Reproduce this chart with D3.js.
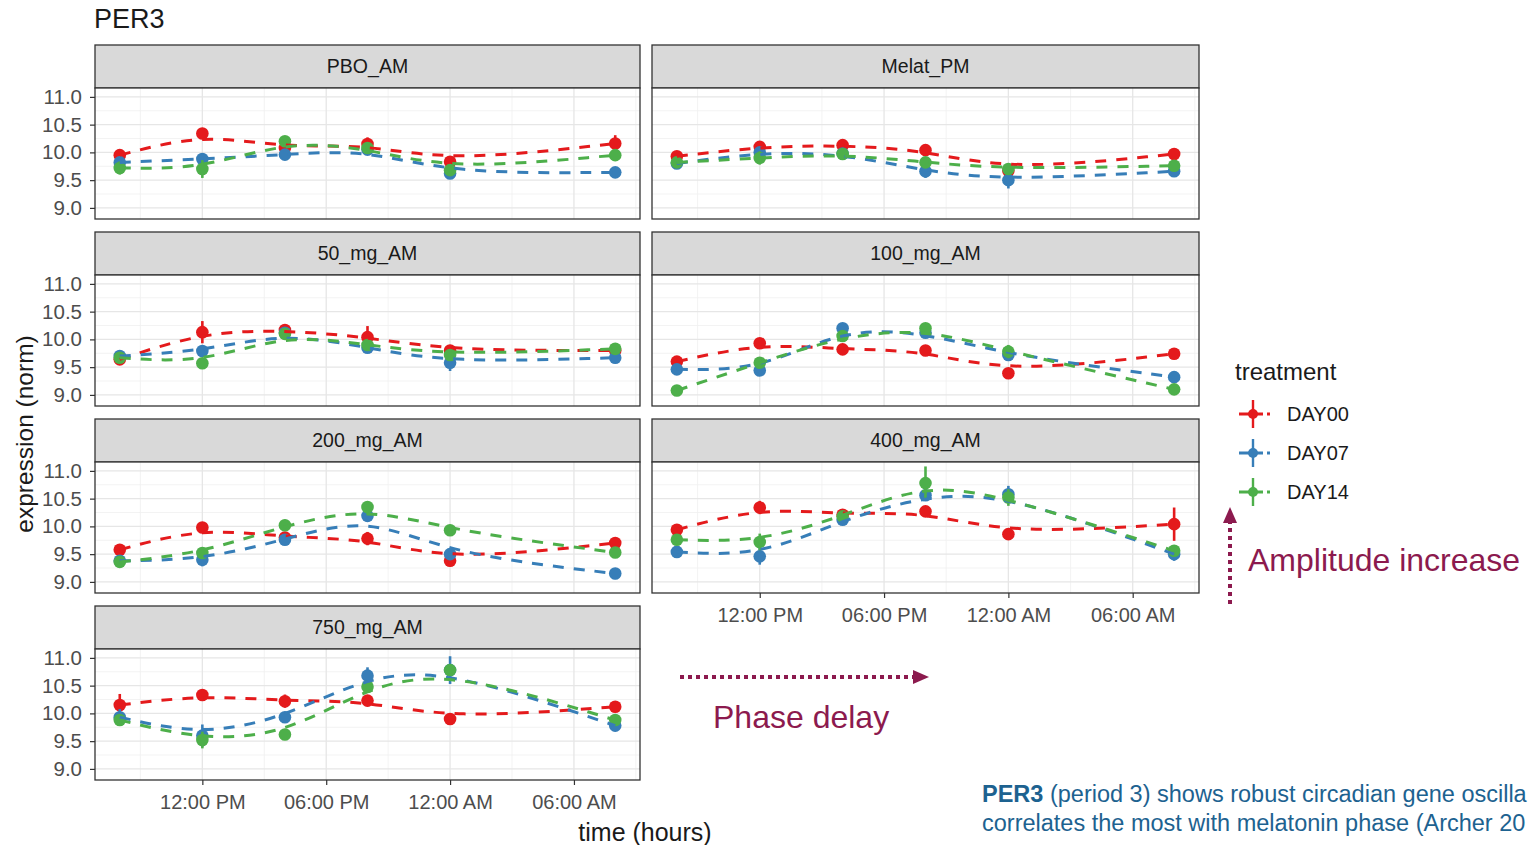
<!DOCTYPE html>
<html><head><meta charset="utf-8">
<script src="https://cdn.jsdelivr.net/npm/d3@7"></script>
<style>
body{margin:0;background:#fff;overflow:hidden;}
text{font-family:"Liberation Sans",Arial,sans-serif;}
</style>
</head><body>
<svg id="c" width="1528" height="845"></svg>
<script>
// ---------- data ----------
const panels = ["PBO_AM","Melat_PM","50_mg_AM","100_mg_AM","200_mg_AM","400_mg_AM","750_mg_AM"];
const treatments = ["DAY00","DAY07","DAY14"];
const colors = ["#E41A1C","#377EB8","#4DAF4A"];
const hours = [8,12,16,20,24,32];
const xTickHours = [12,18,24,30];
const xTickLabels = ["12:00 PM","06:00 PM","12:00 AM","06:00 AM"];
const xMinorHours = [9,15,21,27,33];
const yTicks = [9.0,9.5,10.0,10.5,11.0];
const yMinor = [9.25,9.75,10.25,10.75];

const day00 = [
  [9.95,10.34,10.08,10.15,9.83,10.16],
  [9.93,10.10,10.13,10.04,9.67,9.97],
  [9.64,10.13,10.17,10.04,9.80,9.80],
  [9.60,9.93,9.82,9.80,9.39,9.74],
  [9.58,9.98,9.80,9.78,9.38,9.70],
  [9.94,10.34,10.21,10.27,9.86,10.04],
  [10.15,10.33,10.22,10.23,9.90,10.12]
];
const day07 = [
  [9.82,9.88,9.96,10.05,9.62,9.64],
  [9.80,10.00,9.98,9.66,9.50,9.66],
  [9.70,9.79,10.12,9.85,9.58,9.67],
  [9.46,9.44,10.20,10.12,9.72,9.32],
  [9.38,9.40,9.76,10.19,9.50,9.15],
  [9.54,9.46,10.12,10.56,10.58,9.50],
  [9.93,9.60,9.93,10.68,10.78,9.78]
];
const day14 = [
  [9.72,9.70,10.20,10.08,9.68,9.95],
  [9.82,9.90,9.97,9.82,9.70,9.76],
  [9.67,9.57,10.10,9.90,9.72,9.83],
  [9.08,9.58,10.06,10.20,9.78,9.10],
  [9.36,9.52,10.02,10.35,9.93,9.53],
  [9.76,9.72,10.18,10.78,10.52,9.56],
  [9.88,9.52,9.62,10.48,10.78,9.88]
];
const err00 = [
  [0.10,0.10,0.08,0.12,0.08,0.15],
  [0.08,0.10,0.10,0.10,0.10,0.10],
  [0.10,0.20,0.08,0.20,0.10,0.10],
  [0.06,0.06,0.06,0.08,0.08,0.06],
  [0.10,0.08,0.08,0.12,0.10,0.06],
  [0.10,0.12,0.08,0.08,0.08,0.30],
  [0.20,0.10,0.12,0.10,0.08,0.10]
];
const err07 = [
  [0.08,0.10,0.08,0.08,0.08,0.08],
  [0.06,0.08,0.08,0.12,0.15,0.10],
  [0.08,0.10,0.06,0.06,0.15,0.10],
  [0.06,0.08,0.06,0.08,0.08,0.06],
  [0.08,0.12,0.08,0.10,0.08,0.10],
  [0.10,0.15,0.08,0.08,0.15,0.12],
  [0.15,0.20,0.08,0.15,0.25,0.10]
];
const err14 = [
  [0.12,0.16,0.08,0.08,0.06,0.08],
  [0.06,0.12,0.08,0.08,0.06,0.06],
  [0.06,0.08,0.06,0.06,0.06,0.10],
  [0.06,0.08,0.08,0.08,0.12,0.06],
  [0.06,0.08,0.10,0.10,0.10,0.06],
  [0.10,0.15,0.08,0.30,0.15,0.08],
  [0.08,0.15,0.10,0.10,0.08,0.08]
];
const seriesVals = [day00, day07, day14];
const seriesErr = [err00, err07, err14];

// ---------- layout ----------
const svg = d3.select("#c");
const colX = [[95,640],[652,1199]];
const rowTop0 = 45, rowStep = 187, stripH = 43, plotH = 131;
const xDomain = [6.8, 33.2];
const yDomain = [8.8, 11.16];
const dark = "#333333";
const FF = '"Liberation Sans",Arial,sans-serif';

svg.append("text").attr("x",94).attr("y",28).attr("font-size",27).attr("fill","#1a1a1a").text("PER3");

panels.forEach((name, pi) => {
  const col = pi % 2, row = Math.floor(pi / 2);
  const [x0, x1] = colX[col];
  const top = rowTop0 + row * rowStep;
  const pTop = top + stripH, pBot = pTop + plotH;
  const x = d3.scaleLinear().domain(xDomain).range([x0, x1]);
  const y = d3.scaleLinear().domain(yDomain).range([pBot, pTop]);
  const g = svg.append("g");

  // strip
  g.append("rect").attr("x",x0).attr("y",top).attr("width",x1-x0).attr("height",stripH)
    .attr("fill","#D9D9D9").attr("stroke",dark).attr("stroke-width",1.3);
  g.append("text").attr("x",(x0+x1)/2).attr("y",top+stripH/2).attr("dy","0.35em")
    .attr("text-anchor","middle").attr("font-size",19.5).attr("fill","#1a1a1a").text(name);

  // panel background + grid
  g.append("rect").attr("x",x0).attr("y",pTop).attr("width",x1-x0).attr("height",plotH).attr("fill","#fff");
  g.selectAll(".ymin").data(yMinor).enter().append("line")
    .attr("x1",x0).attr("x2",x1).attr("y1",d=>y(d)).attr("y2",d=>y(d))
    .attr("stroke","#F0F0F0").attr("stroke-width",0.8);
  g.selectAll(".xmin").data(xMinorHours.filter(h=>h<xDomain[1])).enter().append("line")
    .attr("y1",pTop).attr("y2",pBot).attr("x1",d=>x(d)).attr("x2",d=>x(d))
    .attr("stroke","#F0F0F0").attr("stroke-width",0.8);
  g.selectAll(".ymaj").data(yTicks).enter().append("line")
    .attr("x1",x0).attr("x2",x1).attr("y1",d=>y(d)).attr("y2",d=>y(d))
    .attr("stroke","#E6E6E6").attr("stroke-width",1.3);
  g.selectAll(".xmaj").data(xTickHours).enter().append("line")
    .attr("y1",pTop).attr("y2",pBot).attr("x1",d=>x(d)).attr("x2",d=>x(d))
    .attr("stroke","#E6E6E6").attr("stroke-width",1.3);

  // data: error bars + points, then lines
  const line = d3.line().x(d=>x(d[0])).y(d=>y(d[1])).curve(d3.curveBasis);
  treatments.forEach((t, si) => {
    const vals = seriesVals[si][pi], errs = seriesErr[si][pi];
    const pts = hours.map((h,k)=>[h, vals[k], errs[k]]);
    g.selectAll(".eb"+si).data(pts).enter().append("line")
      .attr("x1",d=>x(d[0])).attr("x2",d=>x(d[0]))
      .attr("y1",d=>y(d[1]-d[2])).attr("y2",d=>y(d[1]+d[2]))
      .attr("stroke",colors[si]).attr("stroke-width",2.6);
    g.selectAll(".pt"+si).data(pts).enter().append("circle")
      .attr("cx",d=>x(d[0])).attr("cy",d=>y(d[1])).attr("r",6.3).attr("fill",colors[si]);
  });
  treatments.forEach((t, si) => {
    const vals = seriesVals[si][pi];
    const pts = hours.map((h,k)=>[h, vals[k]]);
    g.append("path").attr("d",line(pts)).attr("fill","none")
      .attr("stroke",colors[si]).attr("stroke-width",3).attr("stroke-dasharray","11,10");
  });

  // border
  g.append("rect").attr("x",x0).attr("y",pTop).attr("width",x1-x0).attr("height",plotH)
    .attr("fill","none").attr("stroke",dark).attr("stroke-width",1.3);

  // y axis
  if (col === 0) {
    const ay = g.append("g").attr("transform",`translate(${x0},0)`)
      .call(d3.axisLeft(y).tickValues(yTicks).tickFormat(d3.format(".1f")).tickSize(5).tickPadding(8));
    ay.select(".domain").remove();
    ay.selectAll(".tick line").attr("stroke",dark).attr("stroke-width",1.2);
    ay.selectAll(".tick text").attr("font-size",20.5).attr("fill","#4D4D4D").style("font-family",FF);
  }
  // x axis
  if (pi === 5 || pi === 6) {
    const ax = g.append("g").attr("transform",`translate(0,${pBot})`)
      .call(d3.axisBottom(x).tickValues(xTickHours).tickFormat((d,i)=>xTickLabels[i]).tickSize(5).tickPadding(10));
    ax.select(".domain").remove();
    ax.selectAll(".tick line").attr("stroke",dark).attr("stroke-width",1.2);
    ax.selectAll(".tick text").attr("font-size",20).attr("fill","#4D4D4D").style("font-family",FF);
  }
});

// axis titles
svg.append("text").attr("transform","translate(33,434) rotate(-90)").attr("text-anchor","middle")
  .attr("font-size",24.5).attr("fill","#1a1a1a").text("expression (norm)");
svg.append("text").attr("x",645).attr("y",841).attr("text-anchor","middle")
  .attr("font-size",25).attr("fill","#1a1a1a").text("time (hours)");

// legend
const lg = svg.append("g");
lg.append("text").attr("x",1235).attr("y",380).attr("font-size",24).attr("fill","#1a1a1a").text("treatment");
const legY = [414, 453, 492];
treatments.forEach((t, si) => {
  const cy = legY[si];
  lg.append("line").attr("x1",1239).attr("x2",1271).attr("y1",cy).attr("y2",cy)
    .attr("stroke",colors[si]).attr("stroke-width",2.8).attr("stroke-dasharray","24,4,3,100");
  lg.append("line").attr("x1",1253).attr("x2",1253).attr("y1",cy-14).attr("y2",cy+14)
    .attr("stroke",colors[si]).attr("stroke-width",2.4);
  lg.append("circle").attr("cx",1253).attr("cy",cy).attr("r",5).attr("fill",colors[si]);
  lg.append("text").attr("x",1287).attr("y",cy).attr("dy","0.35em").attr("font-size",20)
    .attr("fill","#1a1a1a").text(t);
});

// annotations
const maroon = "#8C1A4E";
svg.append("line").attr("x1",680).attr("x2",914).attr("y1",677).attr("y2",677)
  .attr("stroke",maroon).attr("stroke-width",4).attr("stroke-dasharray","4,4");
svg.append("path").attr("d","M913,670 L929,677 L913,684 Z").attr("fill",maroon);
svg.append("text").attr("x",713).attr("y",728).attr("font-size",32).attr("fill",maroon).text("Phase delay");

svg.append("line").attr("x1",1230).attr("x2",1230).attr("y1",604).attr("y2",522)
  .attr("stroke",maroon).attr("stroke-width",4).attr("stroke-dasharray","4,4");
svg.append("path").attr("d","M1223,523 L1230,507 L1237,523 Z").attr("fill",maroon);
svg.append("text").attr("x",1248).attr("y",571).attr("font-size",32).attr("fill",maroon).text("Amplitude increase");

// caption
const blue = "#1D6290";
const t1 = svg.append("text").attr("x",982).attr("y",802).attr("font-size",23.5).attr("fill",blue);
t1.append("tspan").attr("font-weight","bold").text("PER3");
t1.append("tspan").text(" (period 3) shows robust circadian gene oscilla");
svg.append("text").attr("x",982).attr("y",831).attr("font-size",23.5).attr("fill",blue)
  .text("correlates the most with melatonin phase (Archer 20");
</script>
</body></html>
